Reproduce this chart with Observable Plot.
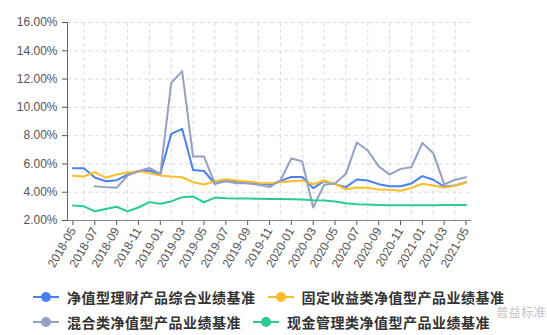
<!DOCTYPE html>
<html><head><meta charset="utf-8">
<script src="https://cdn.jsdelivr.net/npm/d3@7"></script>
<script src="https://cdn.jsdelivr.net/npm/@observablehq/plot@0.6"></script>
<style>
body{margin:0;background:#fff;}
#wrap{position:relative;width:547px;height:335px;overflow:hidden;background:#fff;font-family:"Liberation Sans",Arial,sans-serif;}
#wrap svg{display:block;}
.legend{width:547px;padding-top:4.5px;}
.row{display:flex;height:25px;align-items:center;padding-left:33px;}
.item{display:flex;align-items:center;margin-right:12px;}
.sym{width:26px;height:12px;margin-right:8px;display:block;}
.lab{font-family:"Noto Sans CJK SC";font-size:14px;letter-spacing:0.5px;font-weight:700;color:#333;white-space:nowrap;line-height:25px;}
.wm{position:absolute;left:496px;top:305px;font-family:"Noto Sans CJK SC";font-size:12.5px;line-height:13px;color:#c4c4c4;white-space:nowrap;}
</style></head><body><div id="wrap"></div>
<script>
const months = ["2018-05","2018-06","2018-07","2018-08","2018-09","2018-10","2018-11","2018-12",
"2019-01","2019-02","2019-03","2019-04","2019-05","2019-06","2019-07","2019-08","2019-09","2019-10","2019-11","2019-12",
"2020-01","2020-02","2020-03","2020-04","2020-05","2020-06","2020-07","2020-08","2020-09","2020-10","2020-11","2020-12",
"2021-01","2021-02","2021-03","2021-04","2021-05"];
const xTickLabels = ["2018-05","2018-07","2018-09","2018-11","2019-01","2019-03","2019-05","2019-07","2019-09","2019-11",
"2020-01","2020-03","2020-05","2020-07","2020-09","2020-11","2021-01","2021-03","2021-05"];
const gridMonths = ["2018-06","2018-08","2018-10","2018-12","2019-02","2019-04","2019-06","2019-08","2019-10","2019-12",
"2020-02","2020-04","2020-06","2020-08","2020-10","2020-12","2021-02","2021-04"];
const yTicks = [2,4,6,8,10,12,14,16];

const seriesNames = ["净值型理财产品综合业绩基准","固定收益类净值型产品业绩基准","混合类净值型产品业绩基准","现金管理类净值型产品业绩基准"];
const seriesColors = ["#4a80f0","#fbbd2a","#93a0c2","#2acb93"];

const composite = [5.70,5.70,5.04,4.78,4.85,5.25,5.48,5.54,5.28,8.13,8.48,5.57,5.50,4.60,4.85,4.71,4.64,4.64,4.52,4.78,5.08,5.08,4.29,4.78,4.57,4.36,4.90,4.83,4.57,4.42,4.42,4.62,5.14,4.88,4.40,4.48,4.71];
const fixedIncome = [5.16,5.11,5.42,5.02,5.25,5.39,5.49,5.35,5.18,5.11,5.06,4.71,4.55,4.78,4.92,4.83,4.76,4.66,4.64,4.71,4.77,4.83,4.56,4.83,4.58,4.21,4.33,4.31,4.19,4.17,4.10,4.30,4.60,4.48,4.34,4.46,4.69];
const mixed = [null,null,4.43,4.36,4.31,5.18,5.49,5.72,5.30,11.71,12.56,6.52,6.52,4.60,4.78,4.64,4.64,4.52,4.36,4.83,6.38,6.18,2.92,4.52,4.62,5.30,7.52,6.95,5.83,5.25,5.65,5.77,7.48,6.76,4.55,4.88,5.06];
const cash = [3.06,3.00,2.65,2.81,2.97,2.65,2.92,3.30,3.18,3.35,3.65,3.70,3.29,3.62,3.58,3.56,3.55,3.53,3.52,3.52,3.50,3.49,3.43,3.41,3.35,3.22,3.15,3.13,3.10,3.08,3.07,3.07,3.07,3.08,3.09,3.10,3.09];

const seriesValues = [composite, fixedIncome, mixed, cash];
const data = months.map((m, i) => ({m, v0: composite[i], v1: fixedIncome[i], v2: mixed[i], v3: cash[i]}));

const chart = Plot.plot({
  width: 547, height: 280,
  marginTop: 22, marginBottom: 60, marginLeft: 67, marginRight: 76,
  style: {fontFamily: "'Liberation Sans', Arial, sans-serif", fontSize: "12px", color: "#555", background: "#fff", overflow: "visible"},
  x: {type: "point", domain: months, padding: 0.5},
  y: {domain: [2, 16]},
  marks: [
    Plot.gridY(yTicks, {stroke: "#dcdcdc", strokeOpacity: 1, strokeDasharray: "4,3"}),
    Plot.gridX(gridMonths, {stroke: "#dcdcdc", strokeOpacity: 1, strokeDasharray: "4,3"}),
    Plot.axisY(yTicks, {tickFormat: d => d.toFixed(2) + "%", tickSize: 5, tickPadding: 5, color: "#555", fontSize: 12, label: null}),
    Plot.axisX(xTickLabels, {tickRotate: -60, tickSize: 5, tickPadding: 3, color: "#555", fontSize: 12, label: null}),
    Plot.ruleY([2], {stroke: "#888"}),
    Plot.frame({anchor: "left", stroke: "#666"}),
    ...seriesValues.map((s, k) => Plot.line(data, {x: "m", y: "v" + k, stroke: seriesColors[k], strokeWidth: 2}))
  ]
});

const wrap = document.getElementById("wrap");
wrap.appendChild(chart);

const legend = document.createElement("div");
legend.className = "legend";
const rows = [[0, 1], [2, 3]];
for (const r of rows) {
  const row = document.createElement("div");
  row.className = "row";
  for (const k of r) {
    const item = document.createElement("div");
    item.className = "item";
    item.innerHTML = `<svg class="sym" width="26" height="12"><line x1="0" y1="6" x2="26" y2="6" stroke="${seriesColors[k]}" stroke-width="2"/><circle cx="13" cy="6" r="5" fill="${seriesColors[k]}"/></svg><span class="lab">${seriesNames[k]}</span>`;
    row.appendChild(item);
  }
  legend.appendChild(row);
}
wrap.appendChild(legend);

const wm = document.createElement("div");
wm.className = "wm";
wm.textContent = "普益标准";
wrap.appendChild(wm);
</script>
</body></html>
